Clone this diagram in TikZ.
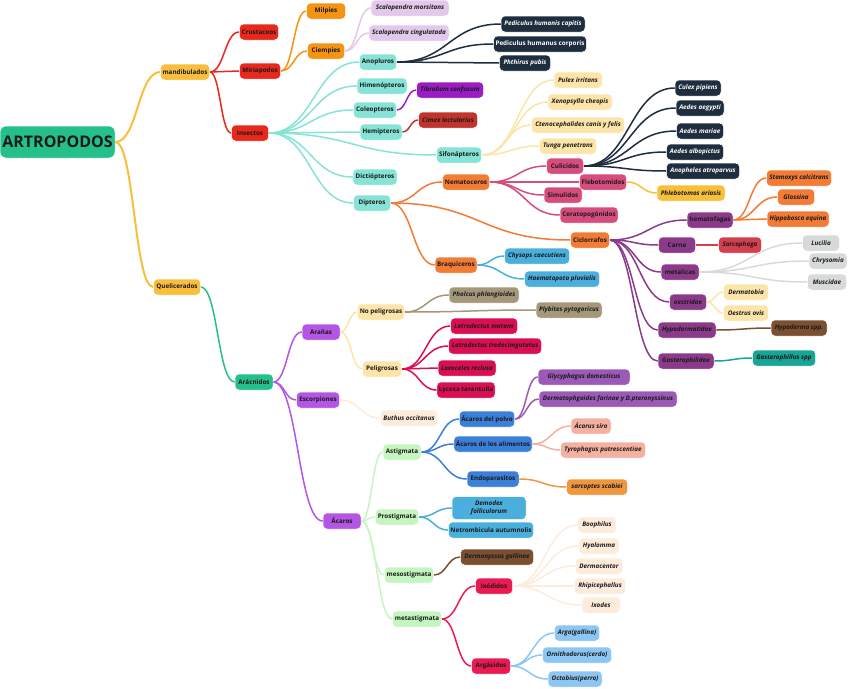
\documentclass[tikz,border=0pt]{standalone}
\usepackage{fontspec}
\setmainfont{Open Sans}
\usetikzlibrary{calc,backgrounds}
\definecolor{cgreen}{HTML}{25C08A}
\definecolor{cyel}{HTML}{F8BE3C}
\definecolor{cred}{HTML}{E8281C}
\definecolor{corg}{HTML}{F59315}
\definecolor{clav}{HTML}{E2C8EA}
\definecolor{ccyan}{HTML}{86E3D6}
\definecolor{cnavy}{HTML}{1F2E3F}
\definecolor{cpurp}{HTML}{9A1DC4}
\definecolor{cdred}{HTML}{C1342B}
\definecolor{cpyel}{HTML}{FDE4A8}
\definecolor{corg2}{HTML}{F27B35}
\definecolor{cpink}{HTML}{D64D7D}
\definecolor{cyel2}{HTML}{F8BF3A}
\definecolor{cmauve}{HTML}{8B3A8A}
\definecolor{ccrim}{HTML}{D4404E}
\definecolor{cgrey}{HTML}{D8DADA}
\definecolor{cbrown}{HTML}{7A5030}
\definecolor{cteal}{HTML}{18A597}
\definecolor{cblue}{HTML}{4BAFDD}
\definecolor{ctan}{HTML}{A5987A}
\definecolor{cviol}{HTML}{B455E4}
\definecolor{ccrim2}{HTML}{DA0F52}
\definecolor{cpeach}{HTML}{FDEBDC}
\definecolor{cblue2}{HTML}{3C7FD8}
\definecolor{cpurp2}{HTML}{9C5AB8}
\definecolor{clgreen}{HTML}{C6F6C0}
\definecolor{csalm}{HTML}{F4B1A1}
\definecolor{corg3}{HTML}{F0963F}
\definecolor{ccrim3}{HTML}{EA1B52}
\definecolor{clblue}{HTML}{8DC6F2}
\definecolor{ctext}{HTML}{1A1A1A}
\newcommand\nd[7]{\node[box,fill=#5,minimum width=#4pt,#6] (#1) at (#2,#3) {#7};}
\newcommand\lk[3]{\draw[link,#1] let \p1=(#2.east), \p2=(#3.west) in (\p1) .. controls ({(\x1+\x2)/2},\y1) and ({(\x1+\x2)/2},\y2) .. (\p2);}
\tikzset{
  box/.style={rounded corners=4pt,minimum height=16pt,inner xsep=2pt,inner ysep=1pt,
    draw=white,line width=0.5pt,text=ctext,font=\fontsize{6.3}{7.5}\selectfont\bfseries},
  it/.style={font=\fontsize{6.3}{7.5}\selectfont\bfseries\itshape},
  wt/.style={text=white},
  link/.style={line width=1.5pt,line cap=round}
}
\begin{document}
\begin{tikzpicture}[x=1pt,y=-1pt]
\useasboundingbox (0,0) rectangle (848,688);
% nodes
\node[box,fill=cgreen,minimum width=115pt,minimum height=32pt,rounded corners=6pt,font=\fontsize{16}{18}\selectfont\bfseries] (art) at (57.5,142) {ARTROPODOS};
\nd{mand}{185}{72}{49}{cyel}{}{mandibulados}
\nd{crust}{259}{32}{39}{cred}{}{Crustaceos}
\nd{miria}{260}{71}{41}{cred}{}{Miriapodos}
\nd{insect}{250}{133}{37}{cred}{}{Insectos}
\nd{quel}{177}{287}{47}{cyel}{}{Quelicerados}
\nd{arac}{254}{382}{38}{cgreen}{}{Arácnidos}
\nd{milp}{326}{11}{39}{corg}{}{Milpies}
\nd{ciemp}{326}{51}{37}{corg}{}{Ciempies}
\nd{scalm}{410}{8}{78}{clav}{it}{Scalopendra morsitans}
\nd{scalc}{409}{33}{80}{clav}{it}{Scalopendra cingulatada}
\nd{anop}{378}{62}{37}{ccyan}{}{Anopluros}
\nd{himen}{382}{86}{50}{ccyan}{}{Himenópteros}
\nd{coleo}{375}{110}{43}{ccyan}{}{Coleopteros}
\nd{hemip}{381}{132}{42}{ccyan}{}{Hemipteros}
\nd{trib}{450}{90}{67}{cpurp}{it}{Tibrolium confusum}
\nd{cimex}{448}{120}{59}{cdred}{it}{Cimex lectularius}
\nd{sifon}{459}{155}{45}{ccyan}{}{Sifonápteros}
\nd{dicti}{375}{177}{44}{ccyan}{}{Dictiópteros}
\nd{dipt}{372}{203}{37}{ccyan}{}{Dipteros}
\nd{nemat}{466}{182}{47}{corg2}{}{Nematoceros}
\nd{ped1}{543}{24}{84}{cnavy}{it,wt}{Pediculus humanis capitis}
\nd{ped2}{540}{44}{92}{cnavy}{wt}{Pediculus humanus corporis}
\nd{phth}{525}{63}{51}{cnavy}{it,wt}{Phthirus pubis}
\nd{pulex}{578}{80}{48}{cpyel}{it}{Pulex irritans}
\nd{xeno}{580}{102}{64}{cpyel}{it}{Xenopsylla cheopis}
\nd{cteno}{578}{125}{93}{cpyel}{it}{Ctenocephalides canis y felis}
\nd{tunga}{568}{146}{57}{cpyel}{it}{Tunga penetrans}
\nd{culex}{698}{88}{46}{cnavy}{it,wt}{Culex pipiens}
\nd{aeg}{700}{108}{48}{cnavy}{it,wt}{Aedes aegypti}
\nd{mar}{700}{131}{47}{cnavy}{it,wt}{Aedes mariae}
\nd{albo}{695}{152}{57}{cnavy}{it,wt}{Aedes albopictus}
\nd{anoph}{703}{171}{73}{cnavy}{it,wt}{Anopheles atroparvus}
\nd{culic}{565}{166}{37}{cpink}{}{Culicidos}
\nd{flebo}{603}{182}{47}{cpink}{}{Flebotomidos}
\nd{simul}{563}{195}{38}{cpink}{}{Simulidos}
\nd{cerat}{589}{215}{58}{cpink}{}{Ceratopogónidos}
\nd{phleb}{691}{193}{68}{cyel2}{it}{Phlebotomos ariasis}
\nd{stom}{799}{178}{65}{corg2}{it}{Stomoxys calcitrans}
\nd{gloss}{796}{197}{37}{corg2}{it}{Glossina}
\nd{hippo}{798}{219}{62}{corg2}{it}{Hippobosca equina}
\nd{hemat}{710}{220}{46}{cmauve}{}{hematofagas}
\nd{cicl}{590}{240}{39}{corg2}{}{Ciclorrafos}
\nd{carne}{677}{245}{37}{cmauve}{}{Carne}
\nd{sarco}{740}{245}{43}{ccrim}{it}{Sarcophaga}
\nd{lucil}{821}{243}{37}{cgrey}{it}{Lucilia}
\nd{chrys}{828}{261}{38}{cgrey}{it}{Chrysomia}
\nd{musc}{827}{282}{39}{cgrey}{it}{Muscidae}
\nd{metal}{680}{272}{38}{cmauve}{}{metalicas}
\nd{oestr}{688}{302}{37}{cmauve}{it}{oestridae}
\nd{dermb}{746}{292}{45}{cpyel}{it}{Dermatobia}
\nd{oestv}{746}{313}{45}{cpyel}{it}{Oestrus ovis}
\nd{hypod}{687}{330}{58}{cmauve}{it}{Hypodermatidae}
\nd{hypsp}{799}{328}{56}{cbrown}{it}{Hypoderma spp.}
\nd{gaste}{686}{361}{56}{cmauve}{it}{Gasterophilidae}
\nd{gassp}{784}{358}{63}{cteal}{it}{Gasterophillus spp}
\nd{braq}{456}{265}{42}{corg2}{}{Braquiceros}
\nd{chys}{537}{256}{65}{cblue}{it}{Chysops caecutiens}
\nd{haem}{562}{279}{75}{cblue}{it}{Haematopota pluvialis}
\nd{nopel}{381}{312}{47}{cpyel}{}{No peligrosas}
\nd{pholc}{484}{295}{70}{ctan}{it}{Pholcus phlangioides}
\nd{plyb}{569}{310}{66}{ctan}{it}{Plybites pytagoricus}
\nd{aran}{321}{332}{38}{cviol}{}{Arañas}
\nd{pel}{382}{369}{39}{cpyel}{}{Peligrosas}
\nd{lat1}{484}{326}{67}{ccrim2}{it}{Latrodectus matans}
\nd{lat2}{495}{346}{93}{ccrim2}{it}{Latrodectus tredecimgutatus}
\nd{loxo}{467}{368}{58}{ccrim2}{it}{Loxoceles reclusa}
\nd{lyc}{466}{390}{57}{ccrim2}{}{Lycesa tarantulla}
\nd{escor}{318}{400}{43}{cviol}{}{Escorpiones}
\nd{buth}{409}{418}{57}{cpeach}{it}{Buthus occitanus}
\nd{polvo}{487}{419}{55}{cblue2}{}{Ácaros del polvo}
\nd{glyc}{584}{377}{92}{cpurp2}{it}{Glycyphagus domesticus}
\nd{dermf}{608}{399}{138}{cpurp2}{it}{Dermatophgoides farinae y D.pteronyssinus}
\nd{astig}{402}{452}{38}{clgreen}{}{Astigmata}
\nd{alim}{493}{444}{78}{cblue2}{}{Ácaros de los alimentos}
\nd{acsir}{591}{426}{40}{csalm}{it}{Ácarus siro}
\nd{tyro}{603}{450}{85}{csalm}{it}{Tyrophagus putrescentiae}
\nd{endo}{493}{479}{52}{cblue2}{}{Endoparasitos}
\nd{sarcp}{597}{487}{61}{corg3}{it}{sarcoptes scabiei}
\nd{acar}{342}{521}{38}{cviol}{}{Ácaros}
\nd{prost}{397}{517}{43}{clgreen}{}{Prostigmata}
\node[box,fill=cblue,minimum width=74pt,minimum height=23pt,it,align=center] (demod) at (489,508) {Demodex\\folliculorum};
\nd{netro}{491}{530}{83}{cblue}{}{Netrombicula autumnolis}
\nd{derman}{497}{557}{73}{cbrown}{it}{Dermanyssus gallinae}
\nd{meso}{409}{575}{49}{clgreen}{}{mesostigmata}
\nd{ixod}{494}{586}{37}{ccrim3}{}{Ixódidos}
\nd{meta}{417}{619}{49}{clgreen}{}{metastigmata}
\nd{argas}{491}{666}{39}{ccrim3}{}{Argásidos}
\nd{boo}{597}{525}{38}{cpeach}{it}{Boophilus}
\nd{hyal}{599}{546}{40}{cpeach}{it}{Hyalomma}
\nd{dermc}{599}{566}{47}{cpeach}{it}{Dermacentor}
\nd{rhip}{600}{586}{51}{cpeach}{it}{Rhipicephallus}
\nd{ixodes}{601}{605}{38}{cpeach}{it}{Ixodes}
\nd{arga}{577}{633}{45}{clblue}{it}{Arga(gallina)}
\nd{ornit}{577}{655}{69}{clblue}{it}{Ornithodorus(cerdo)}
\nd{octob}{575}{679}{54}{clblue}{it}{Octobius(perro)}
% links
\begin{scope}[on background layer]
\lk{cyel,line width=2pt}{art}{mand}
\lk{cyel,line width=2pt}{art}{quel}
\lk{cred}{mand}{crust}\lk{cred}{mand}{miria}\lk{cred}{mand}{insect}
\lk{corg}{miria}{milp}\lk{corg}{miria}{ciemp}
\lk{clav}{ciemp}{scalm}\lk{clav}{ciemp}{scalc}
\lk{ccyan}{insect}{anop}\lk{ccyan}{insect}{himen}\lk{ccyan}{insect}{coleo}
\lk{ccyan}{insect}{hemip}\lk{ccyan}{insect}{sifon}\lk{ccyan}{insect}{dicti}\lk{ccyan}{insect}{dipt}
\lk{cnavy}{anop}{ped1}\lk{cnavy}{anop}{ped2}\lk{cnavy}{anop}{phth}
\lk{cpurp}{coleo}{trib}
\lk{cdred}{hemip}{cimex}
\lk{cpyel}{sifon}{pulex}\lk{cpyel}{sifon}{xeno}\lk{cpyel}{sifon}{cteno}\lk{cpyel}{sifon}{tunga}
\lk{corg2}{dipt}{nemat}\lk{corg2}{dipt}{cicl}\lk{corg2}{dipt}{braq}
\lk{cpink}{nemat}{culic}\lk{cpink}{nemat}{flebo}\lk{cpink}{nemat}{simul}\lk{cpink}{nemat}{cerat}
\lk{cnavy}{culic}{culex}\lk{cnavy}{culic}{aeg}\lk{cnavy}{culic}{mar}\lk{cnavy}{culic}{albo}\lk{cnavy}{culic}{anoph}
\lk{cyel2}{flebo}{phleb}
\lk{cmauve}{cicl}{hemat}\lk{cmauve}{cicl}{carne}\lk{cmauve}{cicl}{metal}
\lk{cmauve}{cicl}{oestr}\lk{cmauve}{cicl}{hypod}\lk{cmauve}{cicl}{gaste}
\lk{corg2}{hemat}{stom}\lk{corg2}{hemat}{gloss}\lk{corg2}{hemat}{hippo}
\lk{ccrim}{carne}{sarco}
\lk{cgrey}{metal}{lucil}\lk{cgrey}{metal}{chrys}\lk{cgrey}{metal}{musc}
\lk{cpyel}{oestr}{dermb}\lk{cpyel}{oestr}{oestv}
\lk{cbrown}{hypod}{hypsp}
\lk{cteal}{gaste}{gassp}
\lk{cblue}{braq}{chys}\lk{cblue}{braq}{haem}
\lk{cgreen}{quel}{arac}
\lk{cviol}{arac}{aran}\lk{cviol}{arac}{escor}\lk{cviol}{arac}{acar}
\lk{cpyel}{aran}{nopel}\lk{cpyel}{aran}{pel}
\lk{ctan}{nopel}{pholc}\lk{ctan}{nopel}{plyb}
\lk{ccrim2}{pel}{lat1}\lk{ccrim2}{pel}{lat2}\lk{ccrim2}{pel}{loxo}\lk{ccrim2}{pel}{lyc}
\lk{cpeach}{escor}{buth}
\lk{clgreen}{acar}{astig}\lk{clgreen}{acar}{prost}\lk{clgreen}{acar}{meso}\lk{clgreen}{acar}{meta}
\lk{cblue2}{astig}{polvo}\lk{cblue2}{astig}{alim}\lk{cblue2}{astig}{endo}
\lk{cpurp2}{polvo}{glyc}\lk{cpurp2}{polvo}{dermf}
\lk{csalm}{alim}{acsir}\lk{csalm}{alim}{tyro}
\lk{corg3}{endo}{sarcp}
\lk{cblue}{prost}{demod}\lk{cblue}{prost}{netro}
\lk{cbrown}{meso}{derman}
\lk{ccrim3}{meta}{ixod}\lk{ccrim3}{meta}{argas}
\lk{cpeach}{ixod}{boo}\lk{cpeach}{ixod}{hyal}\lk{cpeach}{ixod}{dermc}\lk{cpeach}{ixod}{rhip}\lk{cpeach}{ixod}{ixodes}
\lk{clblue}{argas}{arga}\lk{clblue}{argas}{ornit}\lk{clblue}{argas}{octob}
\end{scope}
\end{tikzpicture}
\end{document}
